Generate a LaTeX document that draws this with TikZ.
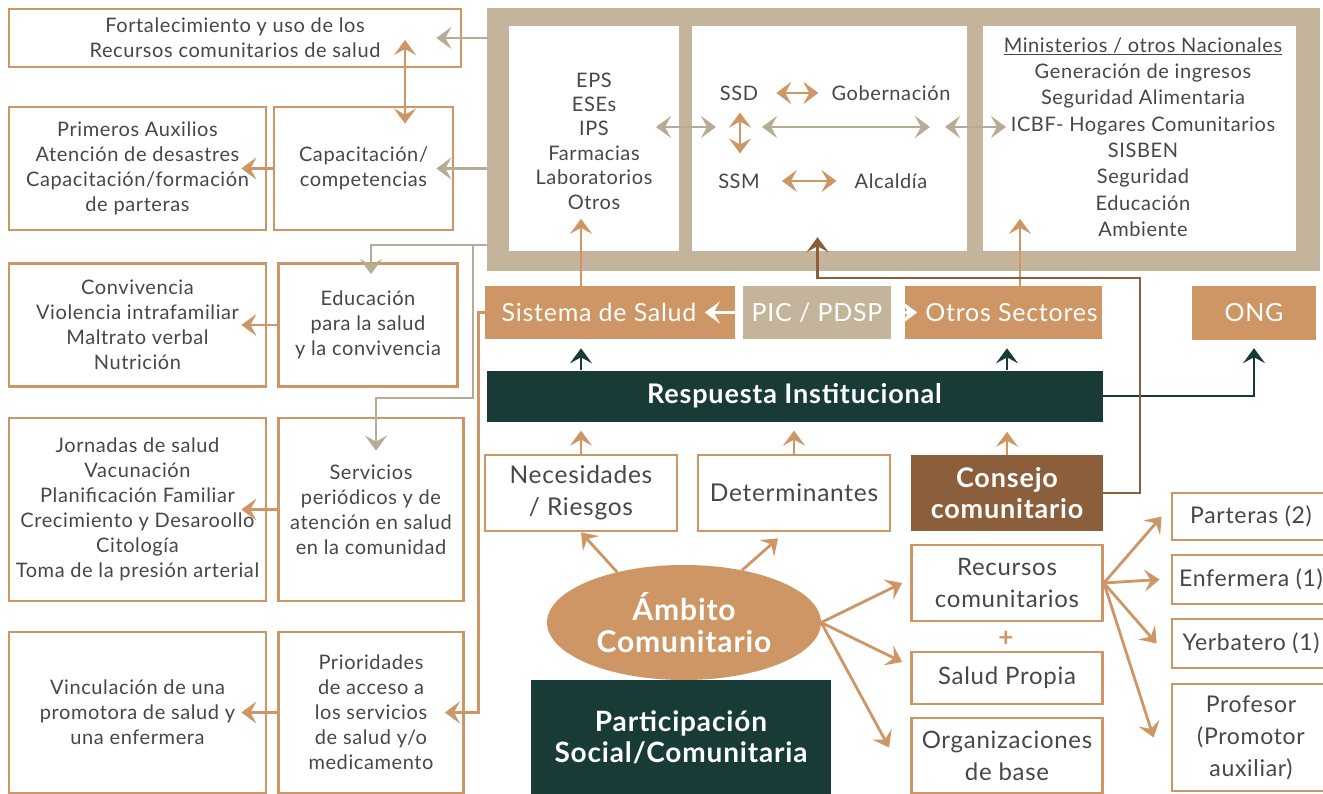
\documentclass[tikz,border=0pt]{standalone}
\usepackage{fontspec}
\setmainfont{Lato}[LetterSpace=3]
\usetikzlibrary{arrows.meta,shapes.geometric}

\definecolor{naranja}{HTML}{CD9664}
\definecolor{arena}{HTML}{C4B49B}
\definecolor{grisflecha}{HTML}{B6AB95}
\definecolor{verde}{HTML}{183B37}
\definecolor{cafe}{HTML}{8B5E3C}
\definecolor{texto}{HTML}{474747}

\tikzset{
  caja/.style 2 args={draw=naranja,line width=2.8pt,fill=white,text=texto,align=center,inner sep=0pt,
    minimum width=#1pt,minimum height=#2pt,font=\fontsize{20}{25}\selectfont},
  llena/.style n args={3}{fill=#1,text=white,align=center,inner sep=0pt,minimum width=#2pt,minimum height=#3pt},
  lista/.style={text=texto,align=center,inner sep=0pt,font=\fontsize{20}{24.4}\selectfont},
  punta/.style={-{Stealth[length=15pt,width=22pt,inset=6pt]}},
  dpunta/.style={{Stealth[length=15pt,width=22pt,inset=6pt]}-{Stealth[length=15pt,width=22pt,inset=6pt]}},
  flechaO/.style={punta,draw=naranja,line width=2.8pt},
  flechaG/.style={punta,draw=grisflecha,line width=2.8pt},
  flechaV/.style={punta,draw=verde,line width=2.8pt},
  flechaC/.style={punta,draw=cafe,line width=2.8pt},
  flechaB/.style={punta,draw=white,line width=2.8pt},
  dobleO/.style={dpunta,draw=naranja,line width=2.8pt},
  dobleG/.style={dpunta,draw=grisflecha,line width=2.8pt}
}

\begin{document}
\begin{tikzpicture}[x=1pt,y=-1pt]
\useasboundingbox (0,0) rectangle (1323,794);
\clip (0,0) rectangle (1323,794);

% marco superior
\node[llena={arena}{833}{263}] (marco) at (903.5,139.5) {};
\node[llena={white}{170}{225}] (sisBox) at (594,138.5) {};
\node[llena={white}{275}{225}] (terBox) at (829.5,138.5) {};
\node[llena={white}{313}{225}] (nacBox) at (1139.5,138.5) {};

\node[lista] (lsis) at (594,141) {EPS\\ESEs\\IPS\\Farmacias\\Laboratorios\\Otros};
\node[lista] (ssd) at (739,93) {SSD};
\node[lista] (gob) at (891,93) {Gobernación};
\node[lista] (ssm) at (739,181) {SSM};
\node[lista] (alc) at (891,181) {Alcaldía};
\node[lista,font=\fontsize{20}{26.3}\selectfont] (lnac) at (1143,137) {\underline{Ministerios / otros Nacionales}\\Generación de ingresos\\Seguridad Alimentaria\\ICBF- Hogares Comunitarios\\SISBEN\\Seguridad\\Educación\\Ambiente};

\draw[dobleO] ([xshift=18pt]ssd.east) -- ([xshift=-13pt]gob.west);
\draw[dobleO] ([xshift=22pt]ssm.east) -- ([xshift=-18pt]alc.west);
\draw[dobleO] ([xshift=1pt,yshift=-12pt]ssd.south) -- ([xshift=1pt,yshift=20pt]ssm.north);

\coordinate (ga) at (656,127);
\coordinate (gb) at (716,127);
\coordinate (gc) at (762,127);
\coordinate (gd) at (930,127);
\coordinate (ge) at (945,127);
\coordinate (gf) at (1006,127);
\foreach \p/\q in {ga/gb,gc/gd,ge/gf}
  \draw[dobleG] (\p) -- (\q);

% columna izquierda
\node[caja={452}{58}] (fort) at (235,38) {Fortalecimiento y uso de los\\Recursos comunitarios de salud};
\node[caja={257}{123}] (prim) at (137.5,168.5) {Primeros Auxilios\\Atención de desastres\\Capacitación/formación\\de parteras};
\node[caja={179}{123}] (capa) at (363.5,168.5) {Capacitación/\\competencias};
\node[caja={257}{123}] (conv) at (137.5,325) {Convivencia\\Violencia intrafamiliar\\Maltrato verbal\\Nutrición};
\node[caja={179}{123}] (educ) at (368,325) {Educación\\para la salud\\y la convivencia};
\node[caja={257}{183}] (jorn) at (137.5,509.5) {Jornadas de salud\\Vacunación\\Planificación Familiar\\Crecimiento y Desaroollo\\Citología\\Toma de la presión arterial};
\node[caja={185}{183}] (serv) at (371,509.5) {Servicios\\periódicos y de\\atención en salud\\en la comunidad};
\node[caja={257}{161}] (vinc) at (137.5,712.5) {Vinculación de una\\promotora de salud y\\una enfermera};
\node[caja={185}{161}] (prio) at (371,712.5) {Prioridades\\de acceso a\\los servicios\\de salud y/o\\medicamento};

\draw[flechaG] (marco.west |- fort.east) -- ([xshift=-26pt]fort.east);
\draw[flechaG] (marco.west |- capa.east) -- ([xshift=-18pt]capa.east);
\coordinate (bifur) at (473,245);
\draw[flechaG] (marco.west |- bifur) -| ([xshift=3pt,yshift=-12pt]educ.north);
\draw[flechaG] (bifur) -- ++(0,153) -| ([xshift=5pt,yshift=-34pt]serv.north);

\coordinate (ejeF) at (405,40);
\draw[dobleO] (ejeF) -- ([xshift=41.5pt,yshift=-18pt]capa.north);
\foreach \a/\b in {capa/prim,educ/conv,serv/jorn,prio/vinc}
  \draw[flechaO] (\a.west) -- ([xshift=-26pt]\b.east);

% sectores
\node[llena={naranja}{250}{53},font=\fontsize{25}{28}\selectfont] (sis) at (610,312.5) {Sistema de Salud\hspace{22pt}};
\node[llena={arena}{148}{53},font=\fontsize{25}{28}\selectfont] (pic) at (817,312.5) {PIC / PDSP};
\node[llena={naranja}{197}{53},font=\fontsize{25}{28}\selectfont] (otros) at (1003,312.5) {\hspace{17pt}Otros Sectores};
\node[llena={naranja}{124}{54},font=\fontsize{25}{28}\selectfont] (ong) at (1254,313) {ONG};

\draw[flechaB] (pic.west) -- ++(-38,0);
\draw[flechaB] (pic.east) -- ++(26,0);
\draw[flechaO] (sis.north -| 581,0) -- ++(0,-67);
\draw[flechaO] ([xshift=17pt]otros.north) -- ++(0,-67);
\draw[flechaO] (sis.west) -- ++(-6,0) |- ([xshift=-20pt]prio.east);

\node[llena={verde}{616}{51},font=\bfseries\fontsize{27}{30}\selectfont] (resp) at (794.5,396) {Respuesta Institucional};

\node[caja={192}{76},font=\fontsize{24.5}{32}\selectfont] (nec) at (581,493) {Necesidades\\/ Riesgos};
\node[caja={192}{76},font=\fontsize{24.5}{32}\selectfont] (det) at (794,493) {Determinantes};
\node[llena={cafe}{192}{76},font=\bfseries\fontsize{27}{31}\selectfont] (cons) at (1007,493) {Consejo\\comunitario};

\draw[flechaV] (resp.north -| nec.north) -- ++(0,-22);
\draw[flechaV] (resp.north -| cons.north) -- ++(0,-22);
\draw[flechaV] (resp.east) -| ([yshift=-8pt]ong.south);
\foreach \n in {nec,det,cons}
  \draw[flechaO] (\n.north) -- ++(0,-23);

\coordinate (codo) at (1140,278);
\draw[flechaC] (cons.east) -| (codo) -| ([xshift=-12pt,yshift=14pt]terBox.south);

% ambito comunitario
\node[llena={verde}{300}{114},font=\bfseries\fontsize{28}{31}\selectfont] (part) at (681,737) {Participación\\Social/Comunitaria};
\node[ellipse,llena={naranja}{274}{115},font=\bfseries\fontsize{30}{32}\selectfont] (amb) at (684,622.5) {Ámbito\\Comunitario};

\node[caja={191}{76},font=\fontsize{24}{32}\selectfont] (rec) at (1007,583) {Recursos\\comunitarios};
\node[text=naranja,font=\bfseries\fontsize{26}{26}\selectfont] (mas) at (1006,639) {+};
\node[caja={191}{52},font=\fontsize{24}{32}\selectfont] (sal) at (1007,678) {Salud Propia};
\node[caja={191}{75},font=\fontsize{24}{32}\selectfont] (org) at (1007,755.5) {Organizaciones\\de base};

\node[caja={158}{47},font=\fontsize{23}{32}\selectfont] (par) at (1251,516.5) {Parteras (2)};
\node[caja={158}{49},font=\fontsize{23}{32}\selectfont] (enf) at (1251,579.5) {Enfermera (1)};
\node[caja={158}{49},font=\fontsize{23}{32}\selectfont] (yer) at (1251,643.5) {Yerbatero (1)};
\node[caja={158}{107},font=\fontsize{23}{32}\selectfont] (pro) at (1251,737.5) {Profesor\\(Promotor\\auxiliar)};

\draw[flechaO] (amb.143) -- (nec.south);
\draw[flechaO] (amb.42) -- ([xshift=-16pt,yshift=-6pt]det.south);
\draw[flechaO] (amb.east) -- ([xshift=-8pt]rec.west);
\draw[flechaO] (amb.east) -- ([xshift=-8pt,yshift=16pt]sal.west);
\draw[flechaO] (amb.east) -- ([xshift=-21pt,yshift=8pt]org.west);
\foreach \d/\s in {par/9,enf/11,yer/14,pro/17}
  \draw[flechaO] (rec.east) -- ([xshift=-\s pt]\d.west);

\end{tikzpicture}
\end{document}
